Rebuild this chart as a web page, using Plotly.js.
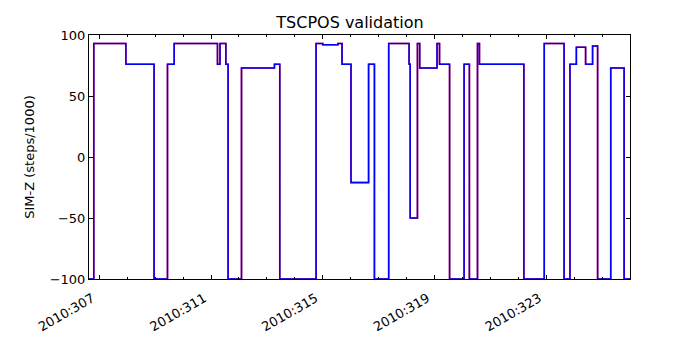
<!DOCTYPE html>
<html>
<head>
<meta charset="utf-8">
<script src="https://cdn.plot.ly/plotly-3.0.1.min.js"></script>
<style>html,body{margin:0;padding:0;background:#fff;}#chart{width:700px;height:350px;}</style>
</head>
<body>
<div id="chart"></div>
<script>
// Day of year 2010 at each step change, and SIM-Z value (steps/1000) held from that time
const stepTimes = [306.63, 306.80, 307.95, 308.96, 309.44, 309.68, 311.23, 311.32, 311.53, 311.61,
  312.09, 313.27, 313.46, 314.76, 315.00, 315.54, 315.69, 316.01, 316.64, 316.85,
  317.36, 318.09, 318.13, 318.39, 318.47, 319.09, 319.18, 319.54, 320.06, 320.25,
  320.54, 320.61, 322.20, 322.93, 323.64, 323.85, 324.08, 324.41, 324.66, 324.84,
  325.31, 325.79, 326.00];
const simzValues = [-100, 93, 76, -100, 76, 93, 76, 93, 76, -100,
  73, 76, -100, 93, 92, 93, 76, -21, 76, -100,
  93, 76, -50, 93, 73, 93, 76, -100, 76, -100,
  93, 76, -100, 93, -100, 76, 90, 76, 91, -100,
  73, -100, -100];
const xTickVals = [307, 311, 315, 319, 323];
const xTickText = ['2010:307', '2010:311', '2010:315', '2010:319', '2010:323'];
const yTickVals = [-100, -50, 0, 50, 100];

const traces = [
  {x: stepTimes, y: simzValues, type: 'scatter', mode: 'lines', line: {shape: 'hv', color: '#ff0000', width: 1.6}, hoverinfo: 'skip'},
  {x: stepTimes, y: simzValues, type: 'scatter', mode: 'lines', line: {shape: 'hv', color: '#0000ff', width: 1.5}}
];

const font = {family: 'DejaVu Sans, sans-serif', size: 13, color: '#000'};
const layout = {
  width: 700, height: 350,
  margin: {l: 89, r: 70, t: 35, b: 71, pad: 0},
  paper_bgcolor: '#fff', plot_bgcolor: '#fff',
  showlegend: false,
  font: font,
  title: {text: 'TSCPOS validation', font: {family: 'DejaVu Sans, sans-serif', size: 16, color: '#000'}, x: 0.5, xanchor: 'center', y: 0.951, yanchor: 'top'},
  xaxis: {
    range: [306.63, 326.0], tickmode: 'array', tickvals: xTickVals, ticktext: xTickText,
    tickangle: -30, ticks: 'inside', ticklen: 4, tickcolor: '#000', tickwidth: 1,
    ticklabelshift: -7, ticklabelstandoff: 6,
    showline: true, linecolor: '#000', linewidth: 1, mirror: 'ticks',
    showgrid: false, zeroline: false, tickfont: font,
    minor: {tickmode: 'linear', tick0: 307, dtick: 1, ticks: 'inside', ticklen: 2, tickcolor: '#000', showgrid: false}
  },
  yaxis: {
    range: [-100, 100], tickmode: 'array', tickvals: yTickVals,
    ticks: 'inside', ticklen: 4, tickcolor: '#000', tickwidth: 1,
    showline: true, linecolor: '#000', linewidth: 1, mirror: 'ticks',
    showgrid: false, zeroline: false, tickfont: font,
    title: {text: 'SIM-Z (steps/1000)', font: font, standoff: 12}
  }
};
Plotly.newPlot('chart', traces, layout, {staticPlot: true, displayModeBar: false});
</script>
</body>
</html>
